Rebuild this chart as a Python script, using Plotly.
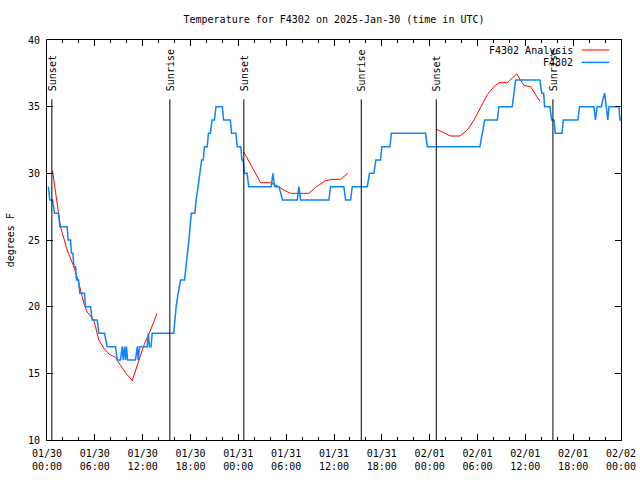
import plotly.graph_objects as go
import pandas as pd

# ---------------- data ----------------
base = pd.Timestamp("2025-01-30 00:00")

# observed temperature (hours after 01/30 00:00 UTC, degrees F)
obs_hours = [0.17, 0.35, 0.69, 0.94, 1.44, 1.62, 2.53, 2.65, 2.95, 3.07, 3.25, 3.37, 3.58, 3.7,
             3.95, 4.12, 4.7, 4.83, 5.46, 5.67, 6.3, 6.5, 7.21, 7.55, 8.6, 8.81, 9.22, 9.43,
             9.56, 9.72, 9.85, 9.97, 10.1, 11.1, 11.32, 11.44, 11.6, 12.57, 12.7, 12.85, 13.05,
             13.2, 15.78, 15.9, 16.05, 16.2, 16.45, 16.75, 17.25, 17.45, 17.6, 17.8, 17.95,
             18.1, 18.55, 18.7, 18.95, 19.2, 19.4, 19.6, 19.75, 20.1, 20.25, 20.5, 20.7, 21.0,
             21.2, 22.0, 22.15, 23.0, 23.15, 23.7, 23.86, 24.3, 24.45, 24.6, 24.75, 25.1, 25.3,
             28.13, 28.33, 28.55, 29.1, 29.55, 31.39, 31.6, 31.81, 35.36, 35.57, 37.24, 37.45,
             38.08, 38.29, 40.18, 40.45, 41.0, 41.25, 41.84, 42.0, 43.01, 43.2, 47.49, 47.7,
             54.3, 54.6, 54.9, 56.49, 56.69, 58.36, 58.6, 58.78, 61.83, 62.05, 62.3, 62.42,
             63.09, 63.3, 63.59, 63.75, 64.6, 64.77, 66.6, 66.8, 68.6, 68.8, 69.0, 69.55, 69.7,
             69.95, 70.15, 70.35, 70.5, 71.74, 71.87, 72.0]
obs_temps = [29, 28, 28, 27, 27, 26, 26, 25, 25, 24, 24, 23, 23, 22,
             22, 21, 21, 20, 20, 19, 19, 18, 18, 17, 17, 16, 16, 17,
             16, 17, 16, 17, 16, 16, 17, 16, 17, 17, 18, 17, 17,
             18, 18, 18, 19, 20, 21, 22, 22, 23, 24, 25, 26,
             27, 27, 28, 29, 30, 31, 31, 32, 32, 33, 33, 34, 34,
             35, 35, 34, 34, 33, 33, 32, 32, 31, 31, 30, 30, 29,
             29, 30, 29, 29, 28, 28, 29, 28, 28, 29, 29, 28,
             28, 29, 29, 30, 30, 31, 31, 32, 32, 33, 33, 32,
             32, 33, 34, 34, 35, 35, 36, 37, 37, 36, 36, 35,
             35, 34, 34, 33, 33, 34, 34, 35, 35, 34, 35, 35, 35.5,
             36, 35, 34, 35, 35, 34, 34]

# analysis temperature, three separate runs
ana1_hours = [0.69, 1.28, 1.69, 2.53, 3.37, 4.0, 4.62, 5.04, 5.87, 6.5, 7.13, 7.76, 8.6,
              9.22, 9.85, 10.69, 11.3, 12.15, 13.0, 13.8]
ana1_temps = [30.2, 27.6, 26.0, 24.25, 23.0, 21.75, 20.25, 19.6, 19.0, 17.5, 16.9, 16.45, 16.2,
              15.6, 15.05, 14.45, 15.6, 17.1, 18.25, 19.5]
ana2_hours = [24.69, 26.79, 28.04, 29.08, 29.71, 30.55, 32.85, 33.69, 34.94, 35.78, 36.83, 37.74]
ana2_temps = [31.6, 29.3, 29.3, 29.0, 28.75, 28.5, 28.5, 28.95, 29.45, 29.55, 29.55, 30.0]
ana3_hours = [48.87, 50.63, 51.8, 52.73, 53.56, 54.39, 55.23, 56.06, 56.69, 57.74, 58.91,
              59.82, 60.67, 61.08, 61.84]
ana3_temps = [33.3, 32.8, 32.8, 33.25, 34.0, 35.0, 35.9, 36.5, 36.8, 36.8, 37.45,
              36.6, 36.5, 36.1, 35.4]

# sun events (hours after 01/30 00:00 UTC)
sun_hours = [0.61, 15.41, 24.69, 39.42, 48.83, 63.46]
sun_labels = ["Sunset", "Sunrise", "Sunset", "Sunrise", "Sunset", "Sunrise"]

tick_hours = [0, 6, 12, 18, 24, 30, 36, 42, 48, 54, 60, 66, 72]
tick_text = ["01/30<br>00:00", "01/30<br>06:00", "01/30<br>12:00", "01/30<br>18:00",
             "01/31<br>00:00", "01/31<br>06:00", "01/31<br>12:00", "01/31<br>18:00",
             "02/01<br>00:00", "02/01<br>06:00", "02/01<br>12:00", "02/01<br>18:00",
             "02/02<br>00:00"]

title = "Temperature for F4302 on 2025-Jan-30 (time in UTC)"
y_label = "degrees F"
name_ana = "F4302 Analysis"
name_obs = "F4302"

# ---------------- figure ----------------
def t(hours):
    return base + pd.to_timedelta(hours, unit="h")

FONT = "DejaVu Sans Mono"
RED = "#ff0000"
BLUE = "#0a84ff"

fig = go.Figure()
for hh, tt in [(ana1_hours, ana1_temps), (ana2_hours, ana2_temps), (ana3_hours, ana3_temps)]:
    fig.add_trace(go.Scatter(x=t(hh), y=tt, mode="lines", line=dict(color=RED, width=1),
                             showlegend=False, hoverinfo="skip"))
fig.add_trace(go.Scatter(x=t(obs_hours), y=obs_temps, mode="lines",
                         line=dict(color=BLUE, width=1.5), showlegend=False))

shapes = []
annotations = []
for h, lab in zip(sun_hours, sun_labels):
    shapes.append(dict(type="line", xref="x", yref="y", x0=t(h), x1=t(h), y0=10, y1=35.55,
                       line=dict(color="black", width=1)))
    annotations.append(dict(x=t(h), y=36.0, xref="x", yref="y", text=lab, textangle=-90,
                            showarrow=False, xanchor="center", yanchor="bottom",
                            font=dict(family=FONT, size=10, color="black")))

# legend (text right-aligned, sample on the right, as in the original)
for name, color, yp in [(name_ana, RED, 0.975), (name_obs, BLUE, 0.944)]:
    annotations.append(dict(x=0.9195, y=yp, xref="paper", yref="paper", text=name,
                            showarrow=False, xanchor="right", yanchor="middle",
                            font=dict(family=FONT, size=10, color="black")))
    shapes.append(dict(type="line", xref="paper", yref="paper", x0=0.9315, x1=0.9796,
                       y0=yp, y1=yp, line=dict(color=color, width=1.5 if color == BLUE else 1)))

annotations.append(dict(x=-0.064, y=0.5, xref="paper", yref="paper", text=y_label,
                        textangle=-90, showarrow=False, xanchor="center", yanchor="middle",
                        font=dict(family=FONT, size=10, color="black")))

fig.update_layout(
    width=640, height=480, autosize=False,
    margin=dict(l=47, r=19, t=40, b=40, autoexpand=False),
    paper_bgcolor="white", plot_bgcolor="white",
    font=dict(family=FONT, size=10, color="black"),
    title=dict(text=title, x=0.5, xref="paper", y=1 - 19 / 480, yanchor="middle",
               xanchor="center", font=dict(family=FONT, size=10, color="black")),
    shapes=shapes, annotations=annotations,
    showlegend=False,
)
fig.update_xaxes(
    range=[t(0), t(72)], tickmode="array", tickvals=t(tick_hours), ticktext=tick_text,
    ticks="inside", ticklen=6, tickcolor="black", showline=True, linecolor="black",
    linewidth=1, mirror="ticks", showgrid=False, zeroline=False, automargin=False,
    minor=dict(dtick=2 * 3600 * 1000, tick0=t(0), ticks="inside", ticklen=3,
               tickcolor="black", showgrid=False),
    tickfont=dict(family=FONT, size=10, color="black"),
    ticklabelstandoff=4,
)
fig.update_yaxes(
    range=[10, 40], dtick=5, tick0=10, ticks="inside", ticklen=6, tickcolor="black",
    showline=True, linecolor="black", linewidth=1, mirror="ticks", showgrid=False,
    zeroline=False, automargin=False, tickfont=dict(family=FONT, size=10, color="black"),
    ticklabelstandoff=4,
)

fig.write_html(
    "out.html",
    include_plotlyjs=True,
    config={"displayModeBar": False, "responsive": False},
    post_script="document.body.style.margin='0';document.body.style.overflow='hidden';",
)
